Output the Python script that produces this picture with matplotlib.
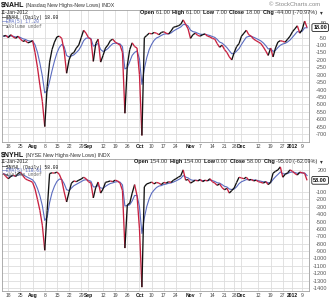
import numpy as np
import pandas as pd
import matplotlib
matplotlib.use("Agg")
import matplotlib.pyplot as plt
from matplotlib.collections import LineCollection

# ---------------- data ----------------
holidays = ["2011-09-05", "2011-11-24", "2011-12-26", "2012-01-02"]
dates = pd.bdate_range("2011-07-14", "2012-01-11")
dates = dates[~dates.isin(pd.to_datetime(holidays))]

nahl = [-40, -35, -50, -30, -45, -55, -40, -60, -75, -70, -85, -80,
        -70, -150, -250, -370, -480, -650, -380, -215, -130, -80, -45, -40,
        -55, -140, -290, -200, -160, -150, -120, -100, -50, 0, -20, -50,
        -60, -210, -90, -60, -215, -170, -120, -100, -70, -60, -80, -90,
        -100, -150, -560, -235, -130, -85, -110, -120, -300, -710, -50, -35,
        -20, -25, -15, -20, -30, -15, -10, -20, -25, -5, 20, 25,
        30, 40, 70, 40, 10, -55, -30, -20, -35, -40, -30, -25,
        -40, -45, -55, -60, -90, -115, -100, -130, -150, -180, -200, -150,
        -110, -90, -40, -20, 0, -30, -40, -60, -70, -80, -90, -113,
        -140, -170, -120, -180, -120, -80, -70, -75, -80, -60, -40, -10,
        10, 30, -20, 5, 62, 18]

nyhl = [150, 110, 80, 110, 130, 110, 150, 170, 120, 80, 60, 50,
        30, -60, -200, -350, -550, -890, -350, 150, 160, 155, 170, 140,
        60, -100, -235, -100, 20, 50, 40, 60, 75, 100, 80, 40,
        20, -180, -40, 35, -115, -60, 30, 40, 50, 40, 60, 50,
        20, -80, -860, -275, -250, -115, 0, -150, -600, -1390, -30, 10,
        20, 35, 10, 30, 20, 0, 30, 20, 40, 30, 60, 80,
        100, 120, 200, 60, 70, 20, 40, 60, 50, 70, 40, 60,
        50, 80, 40, 20, -10, 10, -40, -70, -50, -115, -80, -45,
        30, 100, 90, 80, 100, 60, 70, 50, 60, 40, 30, 20,
        40, 0, 30, 155, 180, 200, 240, 100, 140, 160, 200, 180,
        150, 130, 170, 160, 153, 58]

tick_dates = ["2011-07-18", "2011-07-25", "2011-08-01", "2011-08-08", "2011-08-15",
              "2011-08-22", "2011-08-29", "2011-09-01", "2011-09-12", "2011-09-19",
              "2011-09-26", "2011-10-03", "2011-10-10", "2011-10-17", "2011-10-24",
              "2011-11-01", "2011-11-07", "2011-11-14", "2011-11-21", "2011-11-28",
              "2011-12-01", "2011-12-12", "2011-12-19", "2011-12-27", "2012-01-03",
              "2012-01-09"]
tick_labels = ["18", "25", "Aug", "8", "15", "22", "29", "Sep", "12", "19", "26",
               "Oct", "10", "17", "24", "Nov", "7", "14", "21", "28", "Dec", "12",
               "19", "27", "2012", "9"]
bold_labels = {"Aug", "Sep", "Oct", "Nov", "Dec", "2012"}

top_yticks = [50] + list(range(-50, -701, -50))
bot_yticks = [200] + list(range(-100, -1401, -100))

# ---------------- style ----------------
W, H, DPI = 329, 300, 100
FONT = "Liberation Sans"
MONO = "Liberation Mono"
RED = "#c8203f"
BLACK = "#111111"
BLUE = "#5b6cc0"
GRID = "#dddddd"

plt.rcParams["font.family"] = [FONT, "DejaVu Sans"]

fig = plt.figure(figsize=(W / DPI, H / DPI), dpi=DPI)
fig.patch.set_facecolor("white")


def fx(px):
    return px / W


def fy(py):
    return 1 - py / H


x = np.arange(len(dates))
tick_pos = [int(np.where(dates == pd.Timestamp(d))[0][0]) for d in tick_dates]


def make_axes(top_px, bot_px, ylim, yticks, series, last_box):
    ax = fig.add_axes([fx(2), fy(bot_px), fx(309) - fx(2), fy(top_px) - fy(bot_px)])
    ax.set_xlim(-0.6, len(dates) - 0.2)
    ax.set_ylim(*ylim)
    ax.set_xticks(tick_pos)
    ax.set_xticklabels(tick_labels)
    for lbl in ax.get_xticklabels():
        lbl.set_fontsize(3.6)
        if lbl.get_text() in bold_labels:
            lbl.set_fontweight("bold")
            lbl.set_color("#111111")
        else:
            lbl.set_color("#444444")
    ax.set_yticks(yticks)
    ax.set_yticklabels([str(v) for v in yticks])
    ax.yaxis.tick_right()
    ax.tick_params(axis="y", length=0, pad=13, labelsize=4.0, labelcolor="#555555")
    ax.tick_params(axis="x", length=0, pad=1.5)
    for lbl in ax.get_yticklabels():
        lbl.set_horizontalalignment("right")
    ax.grid(True, color=GRID, lw=0.6)
    ax.set_axisbelow(True)
    for s in ax.spines.values():
        s.set_color("#a0a0a0")
        s.set_linewidth(0.6)
    y = np.asarray(series, dtype=float)
    ema = pd.Series(y).ewm(span=5, adjust=False).mean().values
    ax.plot(x, ema, color=BLUE, lw=0.8, zorder=3)
    pts = np.column_stack([x, y])
    segs = np.stack([pts[:-1], pts[1:]], axis=1)
    cols = [BLACK if y[k + 1] >= y[k] else RED for k in range(len(y) - 1)]
    ax.add_collection(LineCollection(segs, colors=cols, linewidths=0.95, zorder=4))
    # last value box
    ax.annotate(last_box, xy=(1, y[-1]), xycoords=("axes fraction", "data"),
                xytext=(13, 0), textcoords="offset points", ha="right", va="center",
                fontsize=4.0, fontweight="bold", color="#111111",
                bbox=dict(boxstyle="round,pad=0.25", fc="white", ec="#222222", lw=0.6),
                annotation_clip=False, zorder=6)
    return ax


ax1 = make_axes(9.5, 142, (-754, 140), top_yticks, nahl, "18.00")
ax2 = make_axes(158.5, 291, (-1442, 354), bot_yticks, nyhl, "58.00")

renderer = fig.canvas.get_renderer()


def seq(x_px, y_px, pieces, ha="left"):
    """pieces: list of (text, weight, color, size)"""
    texts = []
    widths = []
    for t, w, c, s in pieces:
        tx = fig.text(0, 0, t, fontsize=s, fontweight=w, color=c, va="center")
        bb = tx.get_window_extent(renderer)
        widths.append(bb.width)
        texts.append(tx)
    total = sum(widths)
    cur = x_px - total if ha == "right" else x_px
    for tx, wd in zip(texts, widths):
        tx.set_position((fx(cur), fy(y_px)))
        cur += wd


def header(y_title, sym, desc, rows_y, open_row, legend_items):
    seq(1, y_title, [(sym, "bold", "#111111", 5.0), (" " + desc, "normal", "#333333", 3.8)])
    fig.text(fx(1), fy(rows_y), "11-Jan-2012", fontsize=3.6, color="#222222", va="center")
    seq(323, rows_y, open_row, ha="right")
    for k, (txt, col) in enumerate(legend_items):
        yy = rows_y + 5.5 + 4.0 * k
        fig.text(fx(1.5), fy(yy), "\u2014", fontsize=4.0, color=col, va="center", fontweight="bold")
        fig.text(fx(6.5), fy(yy), txt, fontsize=3.3, color=col, va="center",
                 family=[MONO, "DejaVu Sans Mono"])


def open_pieces(o, h, l, c, chg):
    p = []
    for lab, val in [("Open", o), ("High", h), ("Low", l), ("Close", c), ("Chg", chg)]:
        p.append((lab + " ", "bold", "#111111", 4.0))
        p.append((val + "  ", "normal", "#333333", 4.0))
    p.append(("\u25be", "normal", "#333333", 4.0))
    return p


fig.text(fx(320), fy(4.5), "\u00a9 StockCharts.com", fontsize=4.2, color="#888888",
         ha="right", va="center")

header(5, "$NAHL", "(Nasdaq New Highs-New Lows) INDX", 12.5,
       open_pieces("61.00", "61.00", "7.00", "18.00", "-44.00 (-70.97%)"),
       [("$NAHL (Daily) 18.00", "#111111"), ("EMA(5) 17.20", BLUE),
        ("\u25b2Volume undef", "#666666")])

header(155, "$NYHL", "(NYSE New Highs-New Lows) INDX", 161.5,
       open_pieces("154.00", "154.00", "0.00", "58.00", "-95.00 (-62.09%)"),
       [("$NYHL (Daily) 58.00", "#111111"), ("EMA(5) 110.61", BLUE),
        ("\u25b2Volume undef", "#666666")])

fig.savefig("out.png", dpi=DPI)
